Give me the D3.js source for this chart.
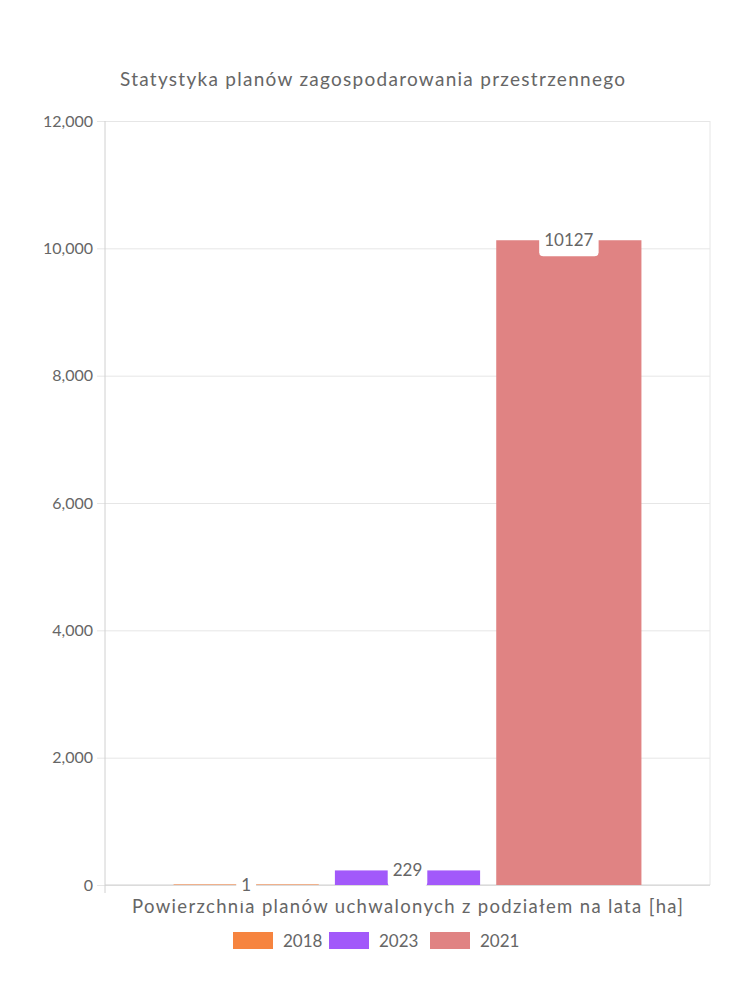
<!DOCTYPE html>
<html><head><meta charset="utf-8">
<script src="https://cdn.jsdelivr.net/npm/d3@7"></script>
<style>body{margin:0;background:#fff}svg{display:block}</style>
</head><body>
<svg id="c" width="750" height="1000"></svg>
<script>
const title = "Statystyka planów zagospodarowania przestrzennego";
const categories = ["Powierzchnia planów uchwalonych z podziałem na lata [ha]"];
const seriesNames = ["2018", "2023", "2021"];
const seriesValues = [1, 229, 10127];
const seriesColors = ["#f6843f", "#a259fa", "#e08383"];
const yTicks = [0, 2000, 4000, 6000, 8000, 10000, 12000];

const svg = d3.select("#c");
const font = "Lato, 'Noto Sans', sans-serif";
const txt = "#666";
const L = 105, R = 710, T = 121, B = 885;

const y = d3.scaleLinear().domain([0, 12000]).range([B, T]);
const x0 = d3.scaleBand().domain(categories).range([L, R]).paddingInner(0).paddingOuter(0);
const bw = x0.bandwidth();
const x1 = d3.scaleBand().domain(seriesNames).range([bw * 0.1, bw * 0.9]).paddingInner(0.1).paddingOuter(0.05);

svg.append("text").attr("x", 372.5).attr("y", 86).attr("text-anchor", "middle")
  .attr("font-family", font).attr("font-size", 19).attr("fill", txt)
  .attr("textLength", 505).attr("lengthAdjust", "spacing").text(title);

// grid
const yAxis = d3.axisLeft(y).tickValues(yTicks).tickSize(-(R - L)).tickPadding(12).tickFormat(d3.format(","));
const ga = svg.append("g").attr("transform", `translate(${L},0)`).call(yAxis);
ga.select(".domain").remove();
ga.selectAll(".tick line").attr("stroke", "#e6e6e6").attr("x1", -8);
ga.selectAll(".tick text").attr("font-family", font).attr("font-size", 16).attr("fill", txt);
// axis lines
svg.append("line").attr("x1", L).attr("x2", L).attr("y1", T).attr("y2", B + 8).attr("stroke", "#d0d0d0");
svg.append("line").attr("x1", R).attr("x2", R).attr("y1", T).attr("y2", B).attr("stroke", "#e6e6e6");
svg.append("line").attr("x1", L).attr("x2", R).attr("y1", B).attr("y2", B).attr("stroke", "#d0d0d0");

// x axis label
const xAxis = d3.axisBottom(x0).tickSize(0).tickPadding(15);
const gx = svg.append("g").attr("transform", `translate(0,${B})`).call(xAxis);
gx.select(".domain").remove();
gx.selectAll(".tick text").attr("font-family", font).attr("font-size", 18.5).attr("fill", txt)
  .attr("textLength", 551).attr("lengthAdjust", "spacing");

// bars
const g = svg.append("g").attr("transform", `translate(${x0(categories[0])},0)`);
seriesNames.forEach((s, i) => {
  const v = seriesValues[i];
  const h = y(0) - y(v);
  g.append("rect").attr("x", x1(s)).attr("width", x1.bandwidth())
    .attr("y", y(v) - (h < 1 ? 1 - h : 0)).attr("height", Math.max(1, h))
    .attr("fill", seriesColors[i]).attr("opacity", h < 1 ? 0.55 : 1);
});
// labels
seriesNames.forEach((s, i) => {
  const v = seriesValues[i];
  const cx = x1(s) + x1.bandwidth() / 2;
  const cy = y(v);
  const t = g.append("text").attr("x", cx).attr("y", cy).attr("dy", "0.35em").attr("text-anchor", "middle")
    .attr("font-family", font).attr("font-size", 17).attr("fill", txt).text(v);
  const bb = t.node().getBBox();
  g.insert("rect", "text:last-of-type").attr("x", bb.x - 5).attr("y", cy - 16).attr("width", bb.width + 10).attr("height", 32)
    .attr("rx", 4).attr("fill", "#fff");
  t.raise();
});

// legend
const leg = svg.append("g");
const legX = [233, 329, 430];
seriesNames.forEach((s, i) => {
  leg.append("rect").attr("x", legX[i]).attr("y", 932).attr("width", 40).attr("height", 17).attr("fill", seriesColors[i]);
  leg.append("text").attr("x", legX[i] + 50).attr("y", 941).attr("dy", "0.35em")
    .attr("font-family", font).attr("font-size", 17).attr("fill", txt).text(s);
});
</script>
</body></html>
